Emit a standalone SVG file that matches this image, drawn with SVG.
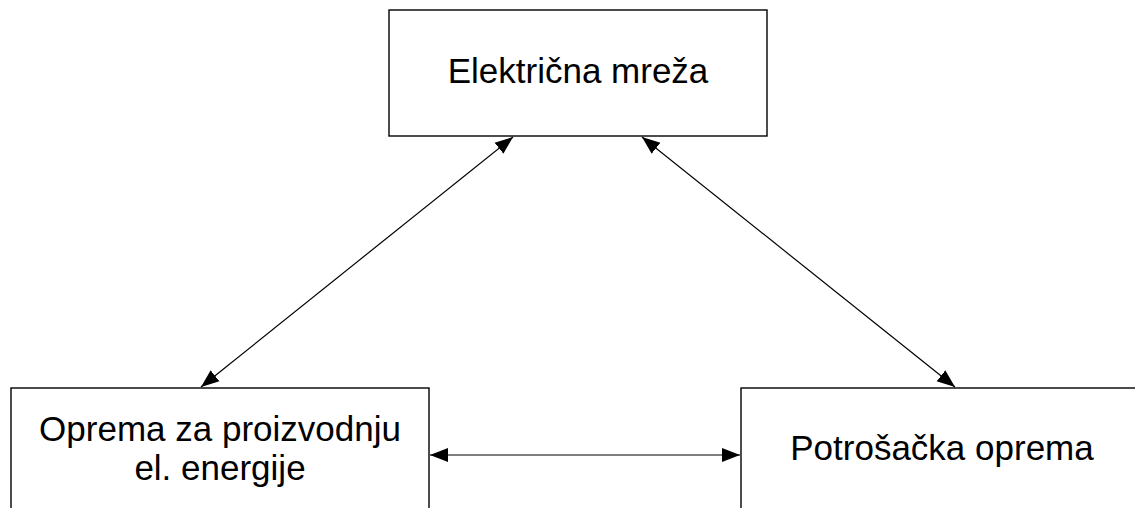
<svg xmlns="http://www.w3.org/2000/svg" width="1135" height="508" viewBox="0 0 1135 508">
<style>
.box{fill:#fff;stroke:#000;stroke-width:1.4}
.lbl{font-family:"Liberation Sans",Arial,sans-serif;font-size:35px;fill:#000;text-anchor:middle}
.con{stroke:#000;stroke-width:1.2;fill:none;marker-start:url(#ah);marker-end:url(#ah)}
</style>
<defs>
<marker id="ah" markerUnits="userSpaceOnUse" markerWidth="19" markerHeight="15" refX="18" refY="7" orient="auto-start-reverse" viewBox="0 0 19 14">
<path d="M0,0 L18,7 L0,14 Z" fill="#000"/>
</marker>
</defs>
<rect width="1135" height="508" fill="#fff"/>
<g id="node-mreza">
<rect class="box" x="389" y="10" width="378" height="126"/>
<text class="lbl" x="578" y="83">Električna mreža</text>
</g>
<g id="node-proizvodnja">
<rect class="box" x="11" y="388" width="418" height="140"/>
<text class="lbl" x="220" y="441">Oprema za proizvodnju</text>
<text class="lbl" x="220" y="480">el. energije</text>
</g>
<g id="node-potrosacka">
<rect class="box" x="741" y="388" width="420" height="140"/>
<text class="lbl" x="942" y="460">Potrošačka oprema</text>
</g>
<g id="connectors">
<line class="con" x1="513" y1="137" x2="201" y2="387"/>
<line class="con" x1="642" y1="137" x2="955" y2="387"/>
<line class="con" x1="430" y1="455" x2="740" y2="455"/>
</g>
</svg>
